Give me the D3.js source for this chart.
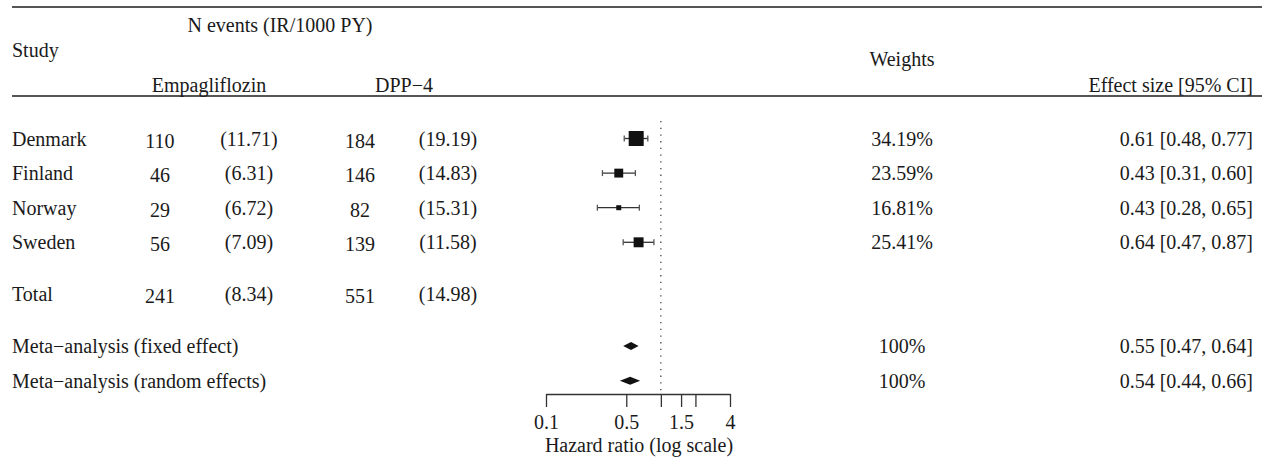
<!DOCTYPE html>
<html>
<head>
<meta charset="utf-8">
<script src="https://cdn.jsdelivr.net/npm/d3@7"></script>
<style>
    body { margin: 0; background: #fff; }
    svg text { font-family: "Liberation Serif", "Times New Roman", serif; font-size: 20px; fill: #1a1a1a; }
</style>
</head>
<body>
<div id="chart"></div>
<script>
// study rows
var studies = ["Denmark", "Finland", "Norway", "Sweden"],
    empaEvents = [110, 46, 29, 56],
    empaIR = [11.71, 6.31, 6.72, 7.09],
    dppEvents = [184, 146, 82, 139],
    dppIR = [19.19, 14.83, 15.31, 11.58],
    weights = [34.19, 23.59, 16.81, 25.41],
    hr = [0.61, 0.43, 0.43, 0.64],
    hrLow = [0.48, 0.31, 0.28, 0.47],
    hrHigh = [0.77, 0.60, 0.65, 0.87];

// totals
var totalEvents = [241, 551],
    totalIR = [8.34, 14.98];

// pooled estimates
var metaLabels = ["Meta\u2212analysis (fixed effect)", "Meta\u2212analysis (random effects)"],
    metaWeights = ["100%", "100%"],
    metaHR = [0.55, 0.54],
    metaLow = [0.47, 0.44],
    metaHigh = [0.64, 0.66];

// x axis
var axisTicks = [0.1, 0.5, 1, 1.5, 2, 4],
    tickLabels = ["0.1", "0.5", "", "1.5", "", "4"];

var width = 1263,
    height = 464,
    lineColor = "#555",
    f2 = d3.format(".2f");

var svg = d3.select("#chart").append("svg")
    .attr("width", width)
    .attr("height", height);

var x = d3.scaleLog().domain([0.1, 4]).range([546, 730]);

// row index -> vertical position (studies 0..3, total 4.5, meta 6, 7)
var y = d3.scaleLinear().domain([0, 1]).range([138.5, 173.1]);

var boxSize = d3.scaleLinear()
    .domain([d3.min(weights), d3.max(weights)])
    .range([5, 15]);

// header rules
svg.append("line").attr("x1", 12).attr("x2", 1262).attr("y1", 7).attr("y2", 7)
    .attr("stroke", lineColor).attr("stroke-width", 2);
svg.append("line").attr("x1", 12).attr("x2", 1262).attr("y1", 96).attr("y2", 96)
    .attr("stroke", lineColor).attr("stroke-width", 2);

function label(txt, px, py, anchor) {
    return svg.append("text")
        .attr("x", px)
        .attr("y", py)
        .attr("dy", "0.35em")
        .attr("text-anchor", anchor || "start")
        .text(txt);
}

// header text
label("Study", 12, 50);
label("N events (IR/1000 PY)", 280, 25, "middle");
label("Empagliflozin", 209, 85, "middle");
label("DPP\u22124", 404, 85, "middle");
label("Weights", 902, 59, "middle");
label("Effect size [95% CI]", 1253, 85, "end");

// study rows
studies.forEach(function (s, i) {
    var yy = y(i);
    label(s, 12, yy);
    label(empaEvents[i], 160, yy + 2, "middle");
    label("(" + f2(empaIR[i]) + ")", 249, yy, "middle");
    label(dppEvents[i], 360, yy + 2, "middle");
    label("(" + f2(dppIR[i]) + ")", 448, yy, "middle");
    label(f2(weights[i]) + "%", 902, yy, "middle");
    label(f2(hr[i]) + " [" + f2(hrLow[i]) + ", " + f2(hrHigh[i]) + "]", 1253, yy, "end");
});

// total row
label("Total", 12, y(4.5));
label(totalEvents[0], 160, y(4.5) + 2, "middle");
label("(" + f2(totalIR[0]) + ")", 249, y(4.5), "middle");
label(totalEvents[1], 360, y(4.5) + 2, "middle");
label("(" + f2(totalIR[1]) + ")", 448, y(4.5), "middle");

// meta rows
metaLabels.forEach(function (m, i) {
    var yy = y(6 + i);
    label(m, 12, yy);
    label(metaWeights[i], 902, yy, "middle");
    label(f2(metaHR[i]) + " [" + f2(metaLow[i]) + ", " + f2(metaHigh[i]) + "]", 1253, yy, "end");
});

// reference line at HR = 1
svg.append("line")
    .attr("x1", x(1)).attr("x2", x(1))
    .attr("y1", 121).attr("y2", 394)
    .attr("stroke", "#444")
    .attr("stroke-width", 1.3)
    .attr("stroke-dasharray", "1.3,5.4");

// CIs and boxes
var g = svg.append("g");
studies.forEach(function (s, i) {
    var yy = y(i), sz = boxSize(weights[i]);
    g.append("line")
        .attr("x1", x(hrLow[i])).attr("x2", x(hrHigh[i]))
        .attr("y1", yy).attr("y2", yy)
        .attr("stroke", "#333").attr("stroke-width", 1.3);
    [hrLow[i], hrHigh[i]].forEach(function (v) {
        g.append("line")
            .attr("x1", x(v)).attr("x2", x(v))
            .attr("y1", yy - 3).attr("y2", yy + 3)
            .attr("stroke", "#555").attr("stroke-width", 1.3);
    });
    g.append("rect")
        .attr("x", x(hr[i]) - sz / 2)
        .attr("y", yy - sz / 2)
        .attr("width", sz)
        .attr("height", sz)
        .attr("fill", "#111");
});

// diamonds
metaLabels.forEach(function (m, i) {
    var yy = y(6 + i), h = 4;
    g.append("path")
        .attr("d", "M" + x(metaLow[i]) + "," + yy +
            "L" + x(metaHR[i]) + "," + (yy - h) +
            "L" + x(metaHigh[i]) + "," + yy +
            "L" + x(metaHR[i]) + "," + (yy + h) + "Z")
        .attr("fill", "#111");
});

// axis
var axis = d3.axisBottom(x)
    .tickValues(axisTicks)
    .tickSize(13)
    .tickSizeOuter(0)
    .tickFormat(function (d, i) { return tickLabels[i]; });

var ax = svg.append("g")
    .attr("transform", "translate(0,394)")
    .call(axis);
ax.select(".domain").attr("stroke", "#333").attr("stroke-width", 1.3);
ax.selectAll(".tick line").attr("stroke", "#333").attr("stroke-width", 1.3);
ax.selectAll(".tick text")
    .attr("y", 28)
    .attr("dy", "0.35em")
    .style("font-family", "'Liberation Serif', serif")
    .style("font-size", "20px")
    .attr("fill", "#1a1a1a");

label("Hazard ratio (log scale)", 639, 445, "middle");
</script>
</body>
</html>
